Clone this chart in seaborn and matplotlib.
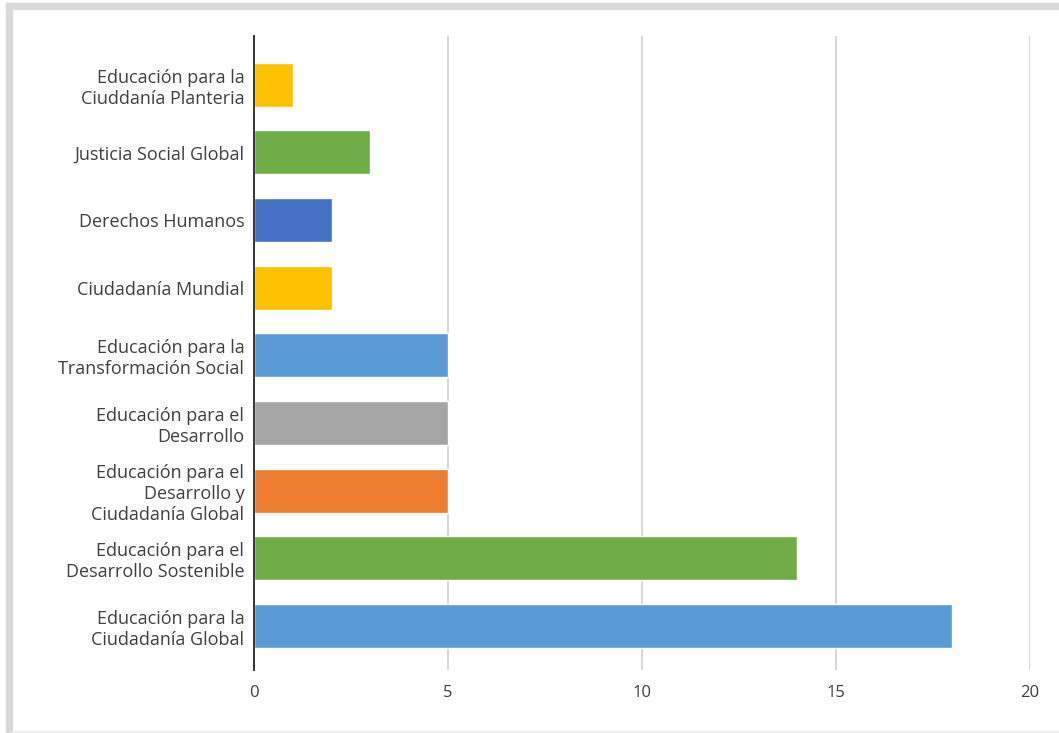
import matplotlib
matplotlib.use("Agg")
import matplotlib.pyplot as plt
import matplotlib.patches as mpatches
import pandas as pd
import seaborn as sns

# Data (top to bottom)
categories = [
    "Educación para la\nCiuddanía Planteria",
    "Justicia Social Global",
    "Derechos Humanos",
    "Ciudadanía Mundial",
    "Educación para la\nTransformación Social",
    "Educación para el\nDesarrollo",
    "Educación para el\nDesarrollo y\nCiudadanía Global",
    "Educación para el\nDesarrollo Sostenible",
    "Educación para la\nCiudadanía Global",
]
values = [1, 3, 2, 2, 5, 5, 5, 14, 18]
bar_colors = ["#FFC000", "#70AD47", "#4472C4", "#FFC000", "#5B9BD5",
              "#A5A5A5", "#ED7D31", "#70AD47", "#5B9BD5"]
x_ticks = [0, 5, 10, 15, 20]

df = pd.DataFrame({"category": categories, "value": values})

sns.set_style("white")
plt.rcParams['font.family'] = ['Open Sans', 'DejaVu Sans']

fig = plt.figure(figsize=(10.59, 7.33), dpi=100)

# Gray frame around the picture
fig.patches.append(mpatches.Rectangle((6 / 1059, 1 - 9 / 733), 1 - 6 / 1059, 6 / 733,
                                      transform=fig.transFigure, color="#d9d9d9", zorder=0))
fig.patches.append(mpatches.Rectangle((6 / 1059, 0), 6 / 1059, 1 - 3 / 733,
                                      transform=fig.transFigure, color="#d9d9d9", zorder=0))
fig.patches.append(mpatches.Rectangle((12 / 1059, 0), 1 - 12 / 1059, 2 / 733,
                                      transform=fig.transFigure, color="#eeeeee", zorder=0))

ax = fig.add_axes([254 / 1059, 1 - 670 / 733, (1030 - 254) / 1059, (670 - 36) / 733])

sns.barplot(data=df, x="value", y="category", hue="category", palette=bar_colors,
            orient="h", width=0.65, legend=False, ax=ax, saturation=1)

ax.set_xlim(0, 20)
ax.set_ylim(8.65, -0.72)
ax.set_xticks(x_ticks)
ax.set_xlabel("")
ax.set_ylabel("")

# Vertical gridlines
ax.grid(axis="x", color="#d0d0d0", linewidth=1.2)
ax.set_axisbelow(True)

for s in ["top", "right", "bottom"]:
    ax.spines[s].set_visible(False)
ax.spines["left"].set_color("#262626")
ax.spines["left"].set_linewidth(1.3)

ax.tick_params(axis="y", length=0, labelsize=13, colors="#404040", pad=7)
ax.tick_params(axis="x", length=0, labelsize=12, colors="#404040", pad=11)
for lbl in ax.get_yticklabels():
    lbl.set_linespacing(1.22)

plt.savefig("out.png", dpi=100)
